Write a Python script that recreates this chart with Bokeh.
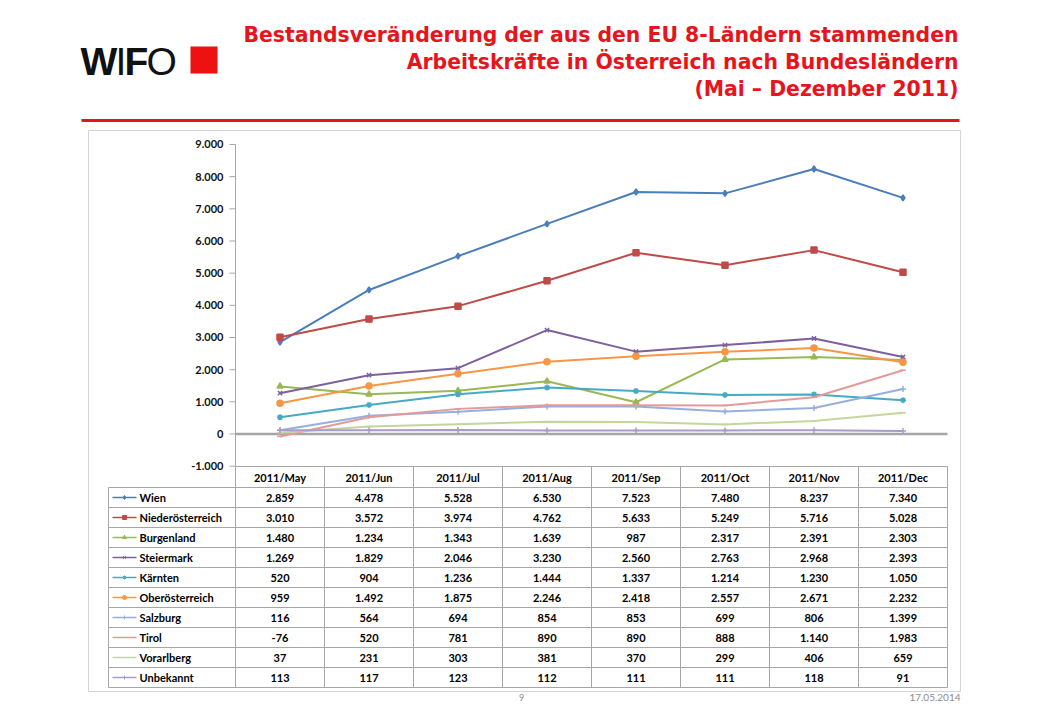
from bokeh.plotting import figure
from bokeh.models import Range1d
from bokeh.embed import file_html
from bokeh.resources import INLINE
from bokeh.core.properties import value

# ---------------- data ----------------
months = ["2011/May", "2011/Jun", "2011/Jul", "2011/Aug",
          "2011/Sep", "2011/Oct", "2011/Nov", "2011/Dec"]
wien = [2859, 4478, 5528, 6530, 7523, 7480, 8237, 7340]
niederoesterreich = [3010, 3572, 3974, 4762, 5633, 5249, 5716, 5028]
burgenland = [1480, 1234, 1343, 1639, 987, 2317, 2391, 2303]
steiermark = [1269, 1829, 2046, 3230, 2560, 2763, 2968, 2393]
kaernten = [520, 904, 1236, 1444, 1337, 1214, 1230, 1050]
oberoesterreich = [959, 1492, 1875, 2246, 2418, 2557, 2671, 2232]
salzburg = [116, 564, 694, 854, 853, 699, 806, 1399]
tirol = [-76, 520, 781, 890, 890, 888, 1140, 1983]
vorarlberg = [37, 231, 303, 381, 370, 299, 406, 659]
unbekannt = [113, 117, 123, 112, 111, 111, 118, 91]

series_names = ["Wien", "Niederösterreich", "Burgenland", "Steiermark", "Kärnten",
                "Oberösterreich", "Salzburg", "Tirol", "Vorarlberg", "Unbekannt"]
series_values = [wien, niederoesterreich, burgenland, steiermark, kaernten,
                 oberoesterreich, salzburg, tirol, vorarlberg, unbekannt]
y_ticks = [-1000, 0, 1000, 2000, 3000, 4000, 5000, 6000, 7000, 8000, 9000]

title_lines = ["Bestandsveränderung der aus den EU 8-Ländern stammenden",
               "Arbeitskräfte in Österreich nach Bundesländern",
               "(Mai – Dezember 2011)"]
page_number = "9"
date_text = "17.05.2014"

# ---------------- styles ----------------
colors = ["#4a7ebb", "#be4b48", "#98b954", "#7d60a0", "#46aac5",
          "#f79646", "#95afdf", "#e39a98", "#c3d69b", "#a99bcb"]
markers = ["diamond", "square", "triangle", "x", "asterisk",
           "circle", "cross", "dash", "dash", "cross"]
RED = "#e8141c"
GRID = "#a6a6a6"
FONT = "Lato"


def de_fmt(v):
    s = f"{abs(v):,}".replace(",", ".")
    return ("-" if v < 0 else "") + s


# ---------------- geometry (page pixels) ----------------
W, H = 1024, 704
OFF = 0               # page offset of the canvas
AX_X = 235.0          # page x of value axis
COL_W = 89.0          # width of a category column
Y0 = 433.5            # page y of value 0
PX_PER_UNIT = 0.03217

x_start = (OFF - AX_X) / COL_W
x_end = (OFF + W - AX_X) / COL_W
y_top = (Y0 - OFF) / PX_PER_UNIT
y_bottom = (Y0 - (OFF + H)) / PX_PER_UNIT

p = figure(width=W, height=H, output_backend="svg", toolbar_location=None,
           x_range=Range1d(x_start, x_end), y_range=Range1d(y_bottom, y_top),
           min_border=0, outline_line_color=None, background_fill_color="white")
p.extra_x_ranges = {"px": Range1d(OFF, OFF + W)}
p.extra_y_ranges = {"px": Range1d(OFF + H, OFF)}
p.axis.visible = False
p.grid.visible = False

PX = dict(x_range_name="px", y_range_name="px")

# chart frame box
p.quad(left=[88], right=[960], top=[130], bottom=[691], fill_color="white",
       line_color="#d4d4d4", line_width=1, **PX)

# ---------------- header: logo, title, red rule ----------------
logo_font = value("Liberation Sans")
p.text(x=[80], y=[61], text=["W"], text_font=logo_font,
       text_font_style="bold", text_font_size="39px", text_baseline="middle",
       text_color="#111111", **PX)
p.text(x=[115], y=[61], text=["I"], text_font=logo_font,
       text_font_style="normal", text_font_size="39px", text_baseline="middle",
       text_color="#111111", **PX)
p.text(x=[124], y=[61], text=["F"], text_font=logo_font,
       text_font_style="bold", text_font_size="39px", text_baseline="middle",
       text_color="#111111", **PX)
p.text(x=[146], y=[61], text=["O"], text_font=logo_font,
       text_font_style="normal", text_font_size="39px", text_baseline="middle",
       text_color="#111111", **PX)
p.quad(left=[190], right=[217], top=[46], bottom=[73], fill_color="#ee1111",
       line_color=None, **PX)

title_y = [34, 61, 88]
p.text(x=[958] * 3, y=title_y, text=title_lines, text_font=value("DejaVu Sans"),
       text_font_style="bold", text_font_size="20.4px", text_align="right",
       text_baseline="middle", text_color=RED, **PX)
p.segment(x0=[81], x1=[959], y0=[120], y1=[120], line_color=RED, line_width=3, **PX)

# ---------------- chart ----------------
xs = [i + 0.5 for i in range(len(months))]
n_cols = len(months)

# value axis line and ticks
p.segment(x0=[0], x1=[0], y0=[min(y_ticks)], y1=[max(y_ticks)],
          line_color=GRID, line_width=1)
p.segment(x0=[AX_X - 6] * len(y_ticks), x1=[AX_X] * len(y_ticks),
          y0=y_ticks, y1=y_ticks, line_color=GRID, line_width=1,
          x_range_name="px")
p.text(x=[AX_X - 12] * len(y_ticks), y=y_ticks, text=[de_fmt(t) for t in y_ticks],
       text_font=value(FONT), text_font_style="bold", text_font_size="11px",
       text_align="right", text_baseline="middle", text_color="#111111",
       x_range_name="px")
# zero line
p.segment(x0=[0], x1=[n_cols], y0=[0], y1=[0], line_color=GRID, line_width=2.5)

for vals, col, mk in zip(series_values, colors, markers):
    p.line(xs, vals, line_color=col, line_width=2)
    p.scatter(xs, vals, marker=mk, size=6, line_color=col, fill_color=col,
              line_width=1.5)

# ---------------- data table ----------------
TBL_L = 108
HDR_TOP = 466
ROW_TOP = 487
ROW_H = 20
n_rows = len(series_names)
tbl_bottom = ROW_TOP + ROW_H * n_rows
col_edges = [AX_X + COL_W * k for k in range(n_cols + 1)]
tbl_right = col_edges[-1]

hy = [HDR_TOP] + [ROW_TOP + ROW_H * r for r in range(n_rows + 1)]
hx0 = [AX_X] + [TBL_L] * (n_rows + 1)
p.segment(x0=hx0, x1=[tbl_right] * len(hy), y0=hy, y1=hy,
          line_color=GRID, line_width=1, **PX)
p.segment(x0=col_edges, x1=col_edges, y0=[HDR_TOP] * len(col_edges),
          y1=[tbl_bottom] * len(col_edges), line_color=GRID, line_width=1, **PX)
p.segment(x0=[TBL_L], x1=[TBL_L], y0=[ROW_TOP], y1=[tbl_bottom],
          line_color=GRID, line_width=1, **PX)

# header labels
p.text(x=xs, y=[(HDR_TOP + ROW_TOP) / 2] * n_cols, text=months,
       text_font=value(FONT), text_font_style="bold", text_font_size="11px",
       text_align="center", text_baseline="middle", text_color="#000000",
       y_range_name="px")

row_y = [ROW_TOP + ROW_H * r + ROW_H / 2 for r in range(n_rows)]
# legend keys and names
p.segment(x0=[112] * n_rows, x1=[136] * n_rows, y0=row_y, y1=row_y,
          line_color=colors, line_width=1.5, **PX)
for r in range(n_rows):
    p.scatter([124], [row_y[r]], marker=markers[r], size=4, line_color=colors[r],
              fill_color=colors[r], **PX)
p.text(x=[139] * n_rows, y=row_y, text=series_names, text_font=value(FONT),
       text_font_style="bold", text_font_size="11px", text_align="left",
       text_baseline="middle", text_color="#000000", **PX)

# values
cell_x, cell_y, cell_t = [], [], []
for r, vals in enumerate(series_values):
    for c, v in enumerate(vals):
        cell_x.append(xs[c])
        cell_y.append(row_y[r])
        cell_t.append(de_fmt(v))
p.text(x=cell_x, y=cell_y, text=cell_t, text_font=value(FONT),
       text_font_style="bold", text_font_size="11px", text_align="center",
       text_baseline="middle", text_color="#000000", y_range_name="px")

# ---------------- footer ----------------
p.text(x=[521], y=[697], text=[page_number], text_font=value(FONT),
       text_font_size="9px", text_align="center", text_baseline="middle",
       text_color="#8c8c8c", **PX)
p.text(x=[960], y=[697], text=[date_text], text_font=value(FONT),
       text_font_size="10px", text_align="right", text_baseline="middle",
       text_color="#8c8c8c", **PX)

open("out.html", "w").write(file_html(p, INLINE))
